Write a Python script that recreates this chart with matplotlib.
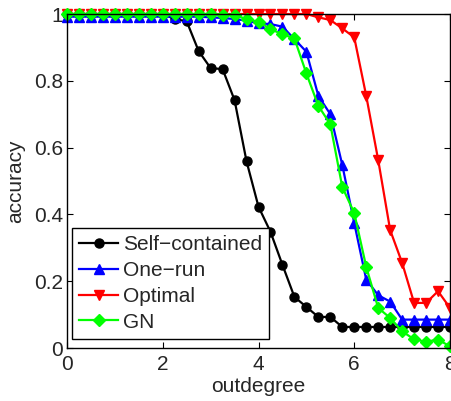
import numpy as np
import matplotlib
matplotlib.use("Agg")
import matplotlib.pyplot as plt

plt.rcParams['font.family'] = ['Liberation Sans', 'DejaVu Sans']

# outdegree steps of 0.25 from 0 to 8
outdegree = np.arange(33) * 0.25

self_contained = [1.0, 1.0, 1.0, 1.0, 1.0, 1.0, 1.0, 1.0, 1.0, 0.985, 0.978,
                  0.889, 0.838, 0.835, 0.742, 0.559, 0.423, 0.348, 0.249, 0.153,
                  0.123, 0.093, 0.093, 0.063, 0.063, 0.063, 0.063, 0.063, 0.063,
                  0.063, 0.063, 0.063, 0.063]
one_run = [0.992, 0.992, 0.992, 0.992, 0.992, 0.992, 0.992, 0.992, 0.992, 0.992, 0.992,
           0.992, 0.99, 0.988, 0.985, 0.98, 0.972, 0.97, 0.962, 0.925,
           0.887, 0.755, 0.70, 0.548, 0.374, 0.205, 0.158, 0.139, 0.085,
           0.085, 0.085, 0.085, 0.085]
optimal = [1.0, 1.0, 1.0, 1.0, 1.0, 1.0, 1.0, 1.0, 1.0, 1.0, 1.0,
           1.0, 1.0, 1.0, 1.0, 1.0, 1.0, 1.0, 1.0, 1.0,
           1.0, 0.99, 0.982, 0.957, 0.93, 0.755, 0.563, 0.353, 0.255,
           0.135, 0.135, 0.17, 0.12]
gn = [1.0, 1.0, 1.0, 1.0, 1.0, 1.0, 1.0, 1.0, 1.0, 1.0, 1.0,
      1.0, 1.0, 0.998, 0.997, 0.985, 0.977, 0.955, 0.939, 0.927,
      0.822, 0.725, 0.67, 0.482, 0.404, 0.243, 0.12, 0.09, 0.05,
      0.026, 0.019, 0.025, 0.005]

fig = plt.figure(figsize=(4.52, 4.01), dpi=100)
ax = fig.add_axes([67 / 452, 53 / 401, 383 / 452, 334 / 401])

lw = 1.6
ax.plot(outdegree, self_contained, '-o', color='black', lw=lw, ms=6.5,
        label='Self\u2212contained', clip_on=False)
ax.plot(outdegree, one_run, '-^', color='#0000ff', lw=lw, ms=7.5,
        label='One\u2212run', clip_on=False)
ax.plot(outdegree, optimal, '-v', color='#ff0000', lw=lw, ms=7.5,
        label='Optimal', clip_on=False)
ax.plot(outdegree, gn, '-D', color='#00ff00', lw=lw, ms=6,
        label='GN', clip_on=False)

ax.set_xlim(0, 8)
ax.set_ylim(0, 1)
ax.set_xticks([0, 2, 4, 6, 8])
ax.set_yticks([0, 0.2, 0.4, 0.6, 0.8, 1])
ax.set_yticklabels(['0', '0.2', '0.4', '0.6', '0.8', '1'])
ax.tick_params(direction='in', top=True, right=True, length=4, width=0.8,
               labelsize=15, colors='black', labelcolor='#262626')
ax.tick_params(axis='x', pad=5)
ax.tick_params(axis='y', pad=3)
for s in ax.spines.values():
    s.set_linewidth(1.0)

ax.set_xlabel('outdegree', fontsize=15, color='#262626', labelpad=2)
ax.set_ylabel('accuracy', fontsize=15, color='#262626', labelpad=6)

leg = ax.legend(loc='lower left', bbox_to_anchor=(5 / 383, 9 / 334),
                borderaxespad=0, fontsize=15,
                handlelength=1.85, handletextpad=0.25, borderpad=0.35,
                labelspacing=0.33, fancybox=False, edgecolor='black',
                framealpha=1)
leg.get_frame().set_linewidth(1.0)
for t in leg.get_texts():
    t.set_color('#262626')

fig.savefig('out.png', dpi=100)
